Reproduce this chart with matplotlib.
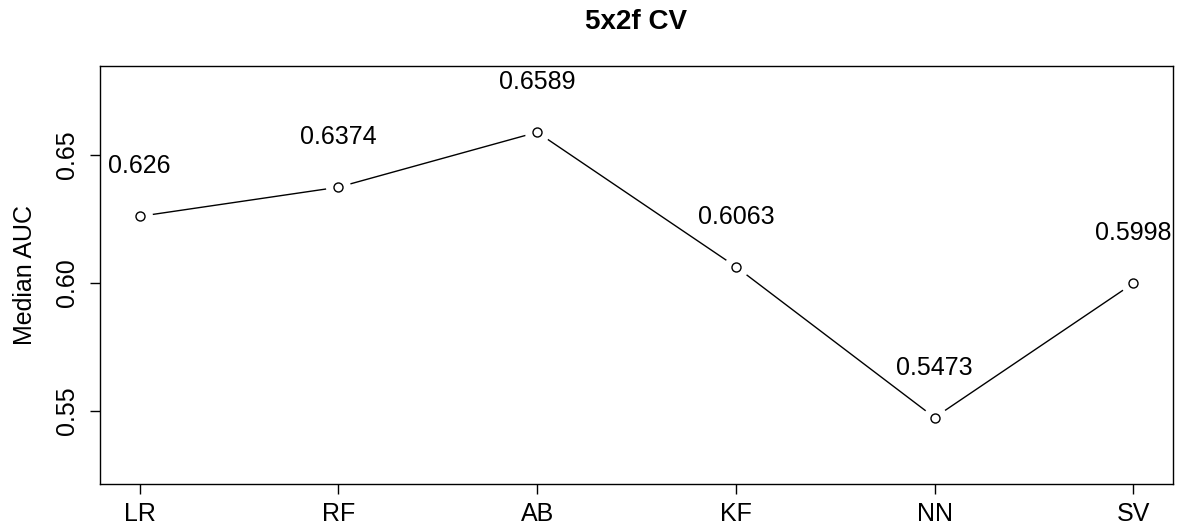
import numpy as np
import matplotlib.pyplot as plt

plt.rcParams['font.family'] = ['Liberation Sans', 'DejaVu Sans']

models = ['LR', 'RF', 'AB', 'KF', 'NN', 'SV']
auc = [0.626, 0.6374, 0.6589, 0.6063, 0.5473, 0.5998]
yticks = [0.55, 0.60, 0.65]
ytick_labels = ['0.55', '0.60', '0.65']

fig = plt.figure(figsize=(11.79, 5.32), dpi=100)
ax = fig.add_axes([100/1179, 48/532, 1073/1179, 418/532])

x = np.arange(1, len(models) + 1)

# line, then white discs to give the R type="b" gaps, then open circles
ax.plot(x, auc, color='k', linewidth=1, zorder=1)
ax.plot(x, auc, linestyle='none', marker='o', markersize=18,
        markerfacecolor='white', markeredgecolor='none', zorder=2)
ax.plot(x, auc, linestyle='none', marker='o', markersize=6.5,
        markerfacecolor='white', markeredgecolor='k', markeredgewidth=1, zorder=3)

for xi, v in zip(x, auc):
    ax.annotate(str(v), (xi, v), xytext=(0, 50), textcoords='offset pixels',
                ha='center', va='center', fontsize=18)

ax.set_xlim(0.8, 6.2)
ax.set_ylim(0.5213, 0.6848)
ax.set_xticks(x)
ax.set_xticklabels(models)
ax.set_yticks(yticks)
ax.set_yticklabels(ytick_labels, rotation=90, va='center')
ax.tick_params(axis='both', length=7, width=1, labelsize=18)
ax.tick_params(axis='x', pad=6)
ax.tick_params(axis='y', pad=8)
for s in ax.spines.values():
    s.set_linewidth(1)

ax.set_ylabel('Median AUC', fontsize=18, labelpad=13)
fig.text(636/1179, 1 - 22/532, '5x2f CV', ha='center', va='center',
         fontsize=20, fontweight='bold')

fig.savefig('out.png', dpi=100)
